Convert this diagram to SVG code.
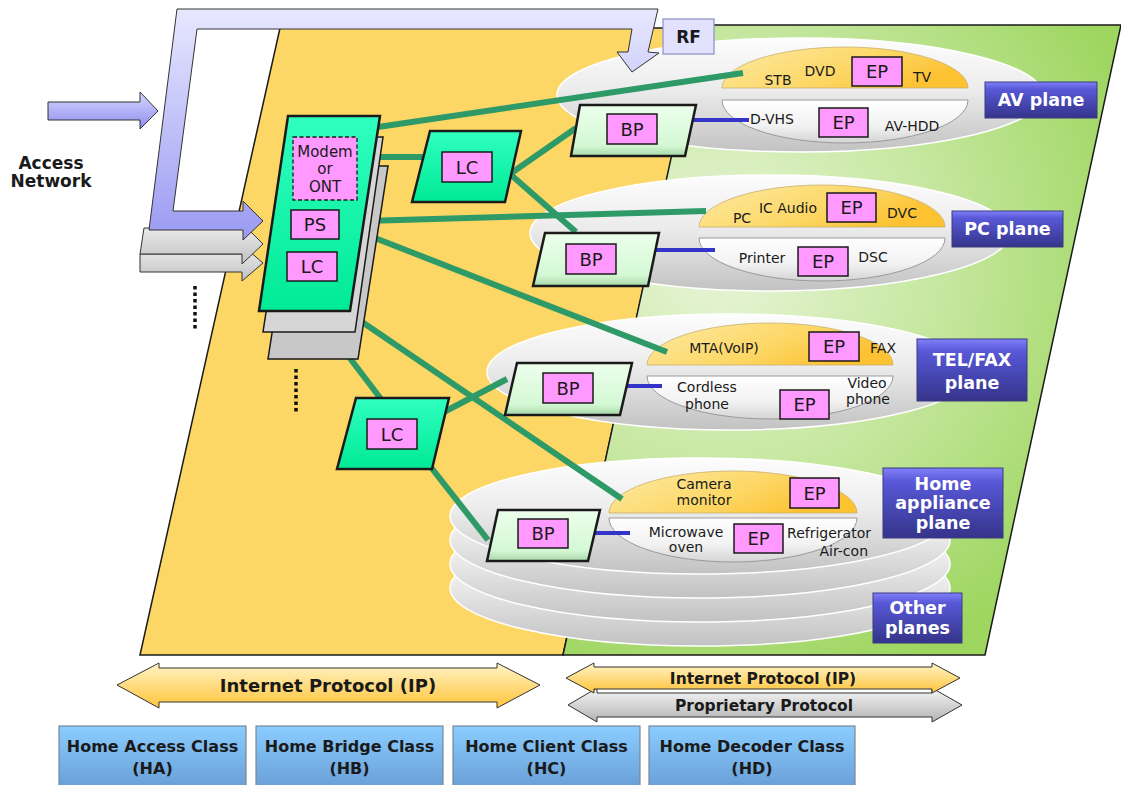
<svg xmlns="http://www.w3.org/2000/svg" width="1121" height="785" viewBox="0 0 1121 785">
<defs>
<linearGradient id="gRF" x1="0" y1="0" x2="0" y2="1"><stop offset="0" stop-color="#e8e8ff"/><stop offset="1" stop-color="#9a9af2"/></linearGradient>
<linearGradient id="gAcc" x1="0" y1="0" x2="0" y2="1"><stop offset="0" stop-color="#d8d8ff"/><stop offset="1" stop-color="#8c8cee"/></linearGradient>
<radialGradient id="gGreen" gradientUnits="userSpaceOnUse" cx="720" cy="260" r="440"><stop offset="0" stop-color="#e8f5d8"/><stop offset="0.5" stop-color="#c6e7a0"/><stop offset="1" stop-color="#9ed660"/></radialGradient>
<linearGradient id="gEll" x1="0" y1="0" x2="0" y2="1"><stop offset="0" stop-color="#fdfdfd"/><stop offset="0.45" stop-color="#ececec"/><stop offset="1" stop-color="#c2c2c2"/></linearGradient>
<linearGradient id="gYel" x1="0" y1="0" x2="1" y2="0.4"><stop offset="0" stop-color="#fdeaa4"/><stop offset="0.6" stop-color="#fdd868"/><stop offset="1" stop-color="#fcc232"/></linearGradient>
<linearGradient id="gWht" x1="0" y1="0" x2="0" y2="1"><stop offset="0" stop-color="#ffffff"/><stop offset="0.6" stop-color="#f2f2f2"/><stop offset="1" stop-color="#d4d4d4"/></linearGradient>
<linearGradient id="gPlane" x1="0" y1="0" x2="0" y2="1"><stop offset="0" stop-color="#8080fa"/><stop offset="0.2" stop-color="#5858d8"/><stop offset="1" stop-color="#34348a"/></linearGradient>
<linearGradient id="gHA" x1="0" y1="0" x2="0" y2="1"><stop offset="0" stop-color="#30ffc0"/><stop offset="1" stop-color="#00ea96"/></linearGradient>
<linearGradient id="gBP" x1="0" y1="0" x2="0" y2="1"><stop offset="0" stop-color="#ecffec"/><stop offset="0.8" stop-color="#d4f8d4"/><stop offset="1" stop-color="#a8d8a8"/></linearGradient>
<linearGradient id="gIP" x1="0" y1="0" x2="0" y2="1"><stop offset="0" stop-color="#fff4c8"/><stop offset="1" stop-color="#ffc43a"/></linearGradient>
<linearGradient id="gProp" x1="0" y1="0" x2="0" y2="1"><stop offset="0" stop-color="#f8f8f8"/><stop offset="1" stop-color="#b2b2b2"/></linearGradient>
<linearGradient id="gCls" x1="0" y1="0" x2="0" y2="1"><stop offset="0" stop-color="#8acdff"/><stop offset="1" stop-color="#6aa0d8"/></linearGradient>
<linearGradient id="gGray" x1="0" y1="0" x2="0" y2="1"><stop offset="0" stop-color="#f0f0f0"/><stop offset="1" stop-color="#c0c0c0"/></linearGradient>
<style>
.t{font-family:"DejaVu Sans",Verdana,sans-serif;fill:#1a1a1a}
.lbl{font-size:14px;text-anchor:middle}
.b{font-weight:bold}
.box{fill:#ff99ff;stroke:#1a1a1a;stroke-width:1.5}
.bt{font-size:18px;text-anchor:middle}
.pl{fill:url(#gPlane);stroke:#3a3a80;stroke-width:1}
.plt{font-family:"DejaVu Sans",Verdana,sans-serif;font-weight:bold;font-size:17.5px;fill:#ffffff;text-anchor:middle}
.ell{fill:url(#gEll);stroke:#ffffff;stroke-width:1.5}
.yl{fill:url(#gYel);stroke:#c8b070;stroke-width:0.8}
.wl{fill:url(#gWht);stroke:#9a9a9a;stroke-width:1}
.gc{stroke:#2e9a68;stroke-width:6;fill:none}
.bc{stroke:#3434c8;stroke-width:4;fill:none}
.dev{fill:url(#gHA);stroke:#1a1a1a;stroke-width:2.5}
.bp{fill:url(#gBP);stroke:#1a1a1a;stroke-width:2.5}
.cls{fill:url(#gCls);stroke:#7a8696;stroke-width:1.2}
</style>
</defs>

<g id="planes">
<polygon points="280,28 700,28 563,655 140,655" fill="#fdd766" stroke="#1a1a1a" stroke-width="1.5"/>
<polygon points="700,25 1121,25 985,655 563,655" fill="url(#gGreen)" stroke="#1a1a1a" stroke-width="1.5"/>
</g>

<g id="access-arrows">
<path d="M140,254 L242,254 L242,245 L263,263 L242,281 L242,272 L140,272 Z" fill="url(#gGray)" stroke="#333" stroke-width="1"/>
<path d="M144,228 L242,228 L242,223 L263,244 L242,264 L242,254 L140,254 Z" fill="url(#gGray)" stroke="#333" stroke-width="1"/>
<path d="M48,102 L140,102 L140,92 L158,111 L140,129 L140,120 L48,120 Z" fill="url(#gAcc)" stroke="#333" stroke-width="1"/>
<text class="t b" x="51" y="169" font-size="17" text-anchor="middle">Access</text>
<text class="t b" x="51" y="187" font-size="17" text-anchor="middle">Network</text>
<line x1="195" y1="286" x2="195" y2="330" stroke="#111" stroke-width="3.5" stroke-dasharray="3.5,3"/>
<line x1="296" y1="369" x2="296" y2="413" stroke="#111" stroke-width="3.5" stroke-dasharray="3.5,3"/>
</g>

<g id="av-plane">
<ellipse class="ell" cx="800" cy="95" rx="243" ry="57"/>
<path class="yl" d="M722,88 A123,41 0 0 1 968,88 Z"/>
<path class="wl" d="M722,100 L968,100 A123,43 0 0 1 722,100 Z"/>
<text class="t lbl" x="778" y="85">STB</text>
<text class="t lbl" x="820" y="76">DVD</text>
<rect class="box" x="852" y="57" width="50" height="29"/>
<text class="t bt" x="877" y="78">EP</text>
<text class="t lbl" x="922" y="82">TV</text>
<text class="t" x="750" y="124" font-size="14">D-VHS</text>
<rect class="box" x="819" y="108" width="49" height="29"/>
<text class="t bt" x="843.5" y="129">EP</text>
<text class="t lbl" x="912" y="131">AV-HDD</text>
</g>

<g id="pc-plane">
<ellipse class="ell" cx="770" cy="233" rx="240" ry="58"/>
<path class="yl" d="M699,227 A123,42 0 0 1 945,227 Z"/>
<path class="wl" d="M699,238 L945,238 A123,43 0 0 1 699,238 Z"/>
<text class="t lbl" x="742" y="223">PC</text>
<text class="t lbl" x="788" y="213">IC Audio</text>
<rect class="box" x="827" y="193" width="49" height="29"/>
<text class="t bt" x="851.5" y="214">EP</text>
<text class="t lbl" x="902" y="218">DVC</text>
<text class="t lbl" x="762" y="263">Printer</text>
<rect class="box" x="798" y="247" width="50" height="29"/>
<text class="t bt" x="823" y="268">EP</text>
<text class="t lbl" x="873" y="262">DSC</text>
</g>

<g id="tel-plane">
<ellipse class="ell" cx="730" cy="372" rx="243" ry="58"/>
<path class="yl" d="M647,365 A123,42 0 0 1 893,365 Z"/>
<path class="wl" d="M647,376 L893,376 A123,43 0 0 1 647,376 Z"/>
<text class="t lbl" x="724" y="353">MTA(VoIP)</text>
<rect class="box" x="809" y="332" width="50" height="29"/>
<text class="t bt" x="834" y="353">EP</text>
<text class="t lbl" x="883" y="353">FAX</text>
<text class="t lbl" x="707" y="392">Cordless</text>
<text class="t lbl" x="707" y="409">phone</text>
<rect class="box" x="780" y="390" width="49" height="29"/>
<text class="t bt" x="804.5" y="411">EP</text>
<text class="t lbl" x="867" y="388">Video</text>
<text class="t lbl" x="868" y="404">phone</text>
</g>

<g id="home-plane">
<ellipse class="ell" cx="700" cy="588" rx="250" ry="58"/>
<ellipse class="ell" cx="700" cy="564" rx="250" ry="58"/>
<ellipse class="ell" cx="700" cy="540" rx="250" ry="58"/>
<ellipse class="ell" cx="700" cy="516" rx="250" ry="58"/>
<path class="yl" d="M609,513 A124,42 0 0 1 857,513 Z"/>
<path class="wl" d="M609,518 L857,518 A124,44 0 0 1 609,518 Z"/>
<text class="t lbl" x="704" y="489">Camera</text>
<text class="t lbl" x="704" y="505">monitor</text>
<rect class="box" x="790" y="478" width="49" height="30"/>
<text class="t bt" x="814.5" y="499.5">EP</text>
<text class="t lbl" x="686" y="537">Microwave</text>
<text class="t lbl" x="686" y="552">oven</text>
<rect class="box" x="734" y="524" width="49" height="29"/>
<text class="t bt" x="758.5" y="545">EP</text>
<text class="t lbl" x="829" y="538">Refrigerator</text>
<text class="t" x="868" y="556" font-size="14" text-anchor="end">Air-con</text>
</g>

<g id="connectors">
<line class="gc" x1="378" y1="127" x2="743" y2="73"/>
<line class="gc" x1="372" y1="157" x2="429" y2="157"/>
<line class="gc" x1="510" y1="174" x2="576" y2="128"/>
<line class="gc" x1="510" y1="174" x2="576" y2="232"/>
<line class="gc" x1="365" y1="221" x2="706" y2="211"/>
<line class="gc" x1="357" y1="231" x2="667" y2="352"/>
<line class="gc" x1="314" y1="311" x2="381" y2="399"/>
<line class="gc" x1="346" y1="311" x2="622" y2="499"/>
<line class="gc" x1="444" y1="412" x2="507" y2="379"/>
<line class="gc" x1="430" y1="466" x2="488" y2="540"/>
<line class="bc" x1="687" y1="120" x2="749" y2="120"/>
<line class="bc" x1="649" y1="250" x2="715" y2="250"/>
<line class="bc" x1="621" y1="386" x2="662" y2="386"/>
<line class="bc" x1="590" y1="533" x2="630" y2="533"/>
</g>

<g id="ha-device">
<polygon points="298,166 388,166 358,359 268,359" fill="#c8c8c8" stroke="#1a1a1a" stroke-width="1.5"/>
<polygon points="293,137 383,137 355,332 263,332" fill="#d6d6d6" stroke="#1a1a1a" stroke-width="1.5"/>
<polygon class="dev" points="288,116 380,116 350,311 259,311"/>
<rect x="293" y="137" width="64" height="63" fill="#ff99ff" stroke="#1a1a1a" stroke-width="1.3" stroke-dasharray="4,2.5"/>
<text class="t" x="325" y="157" font-size="15" text-anchor="middle">Modem</text>
<text class="t" x="325" y="174" font-size="15" text-anchor="middle">or</text>
<text class="t" x="325" y="192" font-size="15" text-anchor="middle">ONT</text>
<rect class="box" x="291" y="210" width="48" height="29"/>
<text class="t bt" x="315" y="231">PS</text>
<rect class="box" x="287" y="252" width="50" height="29"/>
<text class="t bt" x="312" y="273">LC</text>
</g>

<g id="lc1">
<polygon class="dev" points="430,131 521,131 505,202 412,202"/>
<rect class="box" x="442" y="152" width="50" height="30"/>
<text class="t bt" x="467" y="173.5">LC</text>
</g>
<g id="lc2">
<polygon class="dev" points="356,398 449,398 432,469 337,469"/>
<rect class="box" x="367" y="419" width="50" height="30"/>
<text class="t bt" x="392" y="440.5">LC</text>
</g>

<g id="bp1">
<polygon class="bp" points="580,105 696,105 685,156 571,156"/>
<rect class="box" x="607" y="114" width="50" height="30"/>
<text class="t bt" x="632" y="135.5">BP</text>
</g>
<g id="bp2">
<polygon class="bp" points="545,233 659,233 648,286 533,286"/>
<rect class="box" x="566" y="244" width="50" height="30"/>
<text class="t bt" x="591" y="265.5">BP</text>
</g>
<g id="bp3">
<polygon class="bp" points="517,363 632,363 620,415 505,415"/>
<rect class="box" x="543" y="373" width="50" height="30"/>
<text class="t bt" x="568" y="394.5">BP</text>
</g>
<g id="bp4">
<polygon class="bp" points="498,510 600,510 588,561 487,561"/>
<rect class="box" x="518" y="519" width="50" height="29"/>
<text class="t bt" x="543" y="540">BP</text>
</g>

<g id="rf-arrow">
<path d="M177,9 L658,9 L648,52 L659,53 L632,72 L617,52 L628,52 L632,29 L197,29 L173,211 L243,211 L243,201 L263,221 L243,240 L243,230 L149,230 Z" fill="url(#gRF)" stroke="#333" stroke-width="1"/>
<rect x="663" y="19" width="51" height="35" fill="#e2e2ff" stroke="#9494c8" stroke-width="1.3"/>
<text class="t b" x="688.5" y="43" font-size="17" text-anchor="middle">RF</text>
</g>

<g id="plane-labels">
<rect class="pl" x="985" y="82" width="112" height="36"/>
<text class="plt" x="1041" y="106">AV plane</text>
<rect class="pl" x="952" y="211" width="111" height="36"/>
<text class="plt" x="1007.5" y="235">PC plane</text>
<rect class="pl" x="917" y="339" width="110" height="62"/>
<text class="plt" x="972" y="366">TEL/FAX</text>
<text class="plt" x="972" y="389">plane</text>
<rect class="pl" x="883" y="468" width="120" height="70"/>
<text class="plt" x="943" y="490">Home</text>
<text class="plt" x="943" y="509">appliance</text>
<text class="plt" x="943" y="529">plane</text>
<rect class="pl" x="873" y="593" width="89" height="50"/>
<text class="plt" x="917.5" y="614">Other</text>
<text class="plt" x="917.5" y="634">planes</text>
</g>

<g id="protocols">
<path d="M117,685 L159,663 L159,668 L497,668 L497,663 L540,685 L497,708 L497,702 L159,702 L159,708 Z" fill="url(#gIP)" stroke="#333" stroke-width="1"/>
<text class="t b" x="328" y="692" font-size="18" text-anchor="middle">Internet Protocol (IP)</text>
<path d="M568,705 L597,688 L597,693 L932,693 L932,688 L962,705 L932,722 L932,717 L597,717 L597,722 Z" fill="url(#gProp)" stroke="#333" stroke-width="1"/>
<text class="t b" x="764" y="711" font-size="15.5" text-anchor="middle">Proprietary Protocol</text>
<path d="M566,678 L594,663 L594,667 L932,667 L932,663 L960,678 L932,693 L932,689 L594,689 L594,693 Z" fill="url(#gIP)" stroke="#333" stroke-width="1"/>
<text class="t b" x="763" y="684" font-size="15.5" text-anchor="middle">Internet Protocol (IP)</text>
</g>

<g id="class-ha"><rect class="cls" x="59" y="726" width="187" height="60"/>
<text class="t b" x="152.5" y="752" font-size="16" text-anchor="middle">Home Access Class</text>
<text class="t b" x="152.5" y="774" font-size="16" text-anchor="middle">(HA)</text></g>
<g id="class-hb"><rect class="cls" x="256" y="726" width="187" height="60"/>
<text class="t b" x="349.5" y="752" font-size="16" text-anchor="middle">Home Bridge Class</text>
<text class="t b" x="349.5" y="774" font-size="16" text-anchor="middle">(HB)</text></g>
<g id="class-hc"><rect class="cls" x="453" y="726" width="187" height="60"/>
<text class="t b" x="546.5" y="752" font-size="16" text-anchor="middle">Home Client Class</text>
<text class="t b" x="546.5" y="774" font-size="16" text-anchor="middle">(HC)</text></g>
<g id="class-hd"><rect class="cls" x="649" y="726" width="206" height="60"/>
<text class="t b" x="752" y="752" font-size="16" text-anchor="middle">Home Decoder Class</text>
<text class="t b" x="752" y="774" font-size="16" text-anchor="middle">(HD)</text></g>
</svg>
